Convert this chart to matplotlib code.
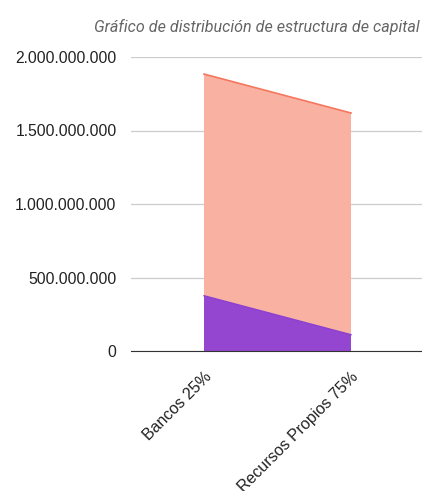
import matplotlib.pyplot as plt
import numpy as np
from matplotlib.ticker import FuncFormatter

categories = ['Bancos 25%', 'Recursos Propios 75%']
bancos = [376_000_000, 111_000_000]
recursos = [1_508_000_000, 1_508_000_000]
y_ticks = [0, 500_000_000, 1_000_000_000, 1_500_000_000, 2_000_000_000]

x = np.arange(len(categories))

fig = plt.figure(figsize=(4.22, 4.91), dpi=100)
ax = fig.add_axes([130.5 / 422, 1 - 351 / 491, (424.5 - 130.5) / 422, (351 - 57) / 491])

ax.stackplot(x, bancos, recursos, colors=['#9446d0', '#f9b1a2'], linewidth=0)
ax.plot(x, bancos, color='#8a3fd0', linewidth=1)
ax.plot(x, np.array(bancos) + np.array(recursos), color='#f4775e', linewidth=1.2)

ax.set_xlim(-0.5, 1.5)
ax.set_ylim(0, 2_000_000_000)
ax.set_yticks(y_ticks)
ax.yaxis.set_major_formatter(FuncFormatter(lambda v, p: f"{int(v):,}".replace(',', '.')))
ax.grid(axis='y', color='#cccccc', linewidth=0.9)
ax.set_axisbelow(True)

for s in ['top', 'right', 'left']:
    ax.spines[s].set_visible(False)
ax.spines['bottom'].set_color('#333333')
ax.spines['bottom'].set_zorder(5)

ax.set_xticks(x)
ax.set_xticklabels(categories, rotation=45, ha='right', rotation_mode='anchor',
                   fontsize=11.5, family='Liberation Sans', color='#222222')
ax.tick_params(axis='x', length=0, pad=13)
ax.tick_params(axis='y', length=0, pad=10, labelsize=11.3, labelcolor='#222222')
for lbl in ax.get_yticklabels():
    lbl.set_family('Liberation Sans')

fig.text(420 / 422, 1 - 27 / 491, 'Gráfico de distribución de estructura de capital',
         ha='right', va='center', fontsize=11.6, style='italic', color='#666666',
         family='Roboto')

plt.savefig('out.png', dpi=100)
